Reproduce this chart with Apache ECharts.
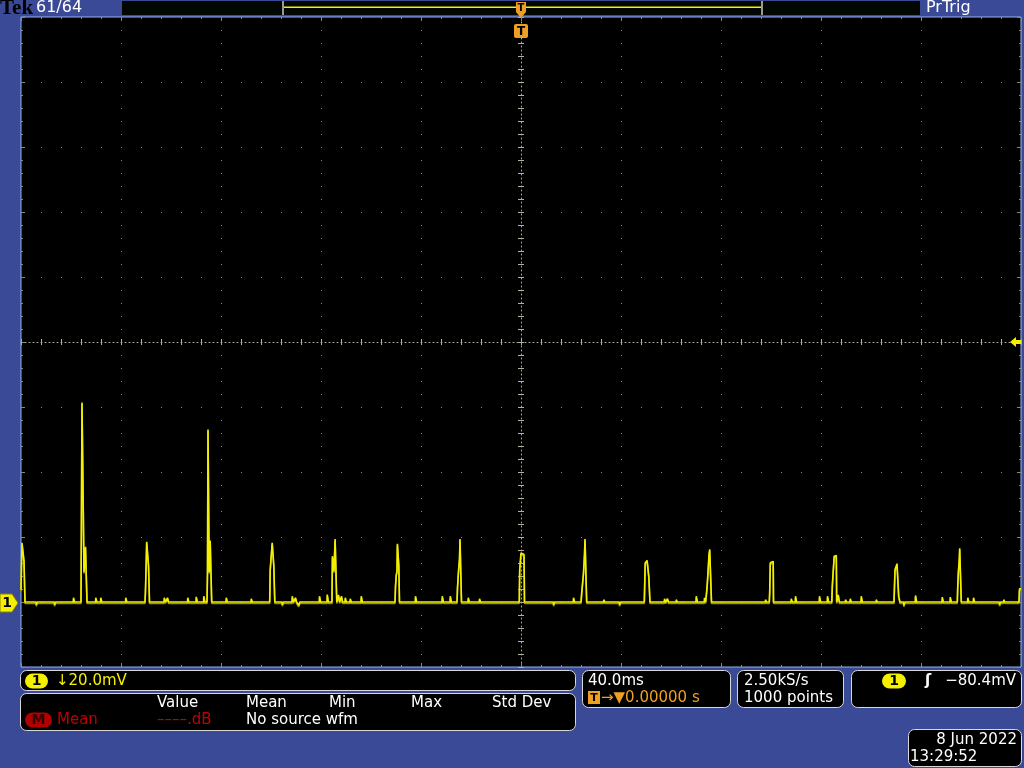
<!DOCTYPE html>
<html>
<head>
<meta charset="utf-8">
<script src="https://cdn.jsdelivr.net/npm/echarts@6/dist/echarts.min.js"></script>
<style>
  html, body { margin: 0; padding: 0; background: #3b4a97; }
  #main { width: 1024px; height: 768px; }
</style>
</head>
<body>
<div id="main"></div>
<script>
// time in ms (trigger at 0), voltage in mV above channel ground
var spikeT = [
  -200.0, -199.6, -199.2, -198.8, -198.4,
  -176.0, -175.6, -175.0, -174.8, -174.3, -174.2, -173.8, -173.6,
  -150.4, -150.2, -149.72, -149.12, -149.0, -148.72, -148.6,
  -125.6, -125.4, -125.2, -124.88, -124.72, -124.48, -124.32, -123.88, -123.72,
  -100.52, -100.32, -99.68, -99.52, -99.04, -98.88, -98.6, -98.48,
  -75.6, -75.44, -74.96, -74.8, -74.48, -74.36, -73.84, -73.68,
  -50.4, -50.2, -49.88, -49.6, -49.44, -49.04, -48.88, -48.72, -48.6,
  -25.6, -25.4, -25.0, -24.6, -24.4, -24.0, -23.8,
  -0.68, -0.52, -0.2, 0.0, 0.6, 0.8, 1.2, 1.4,
  24.0, 24.28, 25.0, 25.4, 25.6, 26.12, 26.28,
  49.32, 49.68, 50.32, 50.44, 51.0, 51.12, 51.48, 51.6,
  74.28, 74.4, 74.8, 75.2, 75.48, 76.0, 76.2,
  99.32, 99.48, 99.72, 100.32, 100.44, 100.88, 101.0,
  124.32, 124.52, 124.8, 125.28, 125.6, 126.12, 126.28,
  149.2, 149.32, 149.6, 150.32, 150.4, 150.92, 151.08, 151.6,
  174.52, 174.68, 174.92, 175.32, 175.48, 175.92, 176.12,
  199.2, 199.4, 200.0
];
var spikeMv = [
  3.8, 18.2, 18.2, 12.6, 0,
  0, 61.4, 61.4, 9.2, 9.2, 17.0, 17.0, 0,
  0, 3.8, 18.5, 18.5, 11.3, 11.3, 0,
  0, 9.2, 53.1, 53.1, 9.2, 9.2, 18.9, 18.9, 0,
  0, 10.0, 10.0, 18.2, 18.2, 11.3, 11.3, 0,
  0, 14.1, 14.1, 9.5, 9.5, 19.4, 19.4, 0,
  0, 4.9, 8.5, 9.4, 17.9, 17.9, 11.3, 11.3, 0,
  0, 4.5, 9.5, 13.1, 19.4, 19.4, 0,
  0, 10.0, 10.0, 15.1, 15.1, 14.6, 14.6, 0,
  0, 2.8, 9.0, 14.6, 19.4, 19.4, 0,
  0, 12.1, 12.1, 12.8, 12.8, 7.9, 7.9, 0,
  0, 4.4, 9.1, 14.6, 16.2, 16.2, 0,
  0, 3.0, 12.1, 12.1, 12.5, 12.5, 0,
  0, 4.9, 8.5, 14.1, 14.3, 14.3, 0,
  0, 3.0, 10.0, 10.0, 11.8, 11.8, 1.8, 0,
  0, 4.4, 9.0, 13.1, 16.5, 16.5, 0,
  0, 4.1, 4.1
];
// small baseline blips between the pulses
var noiseT = [
  -193.7, -186.4, -178.8, -169.9, -167.9, -157.9, -142.5, -141.2, -133.1, -129.7, -126.7,
  -117.7, -107.7, -95.3, -91.3, -90.0, -88.7, -80.4, -77.3, -72.8, -71.6, -70.1, -68.1,
  -63.7, -42.0, -31.3, -28.1, -20.9, -16.4, 13.2, 21.2, 33.3, 39.6, 57.6, 58.8, 62.3,
  70.3, 73.6, 98.0, 108.3, 110.0, 119.6, 122.8, 127.1, 130.0, 131.9, 136.3, 142.3,
  153.3, 158.0, 165.6, 168.7, 171.9, 178.9, 181.2, 191.6, 193.3
];
var noiseMv = [
  -0.8, -0.8, 1.3, 1.3, 1.3, 1.3, 1.3, 1.3, 1.3, 1.6, 1.8,
  1.3, 1.0, -0.8, 1.8, 1.3, -1.0, 1.8, 2.3, 2.2, 1.8, 1.3, 1.0,
  1.8, 1.8, 1.8, 1.8, 1.3, 1.0, -0.8, 1.3, 0.7, -0.8, 1.0, 1.0, 0.7,
  1.8, 1.3, 0.7, 1.0, 1.8, 1.8, 1.8, 2.2, 0.7, 1.0, 1.8, 0.7,
  -1.0, 2.0, 0.5, 1.5, 1.5, 1.3, 1.3, -0.8, 0.7
];
var timeMin = -200, timeMax = 200, timeStep = 40;   // 40.0ms/div
var voltMin = -20, voltMax = 180, voltStep = 20;    // 20.0mV/div

var points = [];
for (var i = 0; i < spikeT.length; i++) points.push([spikeT[i], spikeMv[i]]);
for (var j = 0; j < noiseT.length; j++) {
  points.push([noiseT[j] - 0.25, 0], [noiseT[j] - 0.2, noiseMv[j]],
              [noiseT[j] + 0.2, noiseMv[j]], [noiseT[j] + 0.25, 0]);
}
points.sort(function (a, b) { return a[0] - b[0]; });

var gridDot = '#8c8a78';
var centerDot = '#b4b09c';
var font = '15px "DejaVu Sans"';
var yellow = '#f4f000';
var orange = '#f0a020';

function box(x, y, w, h) {
  return { type: 'rect', z: 100, shape: { x: x + 0.5, y: y + 0.5, width: w, height: h, r: 6 },
    style: { fill: '#000', stroke: '#d8d8d8', lineWidth: 1 } };
}
function txt(x, y, s, color, f, align) {
  return { type: 'text', z: 110, x: x, y: y,
    style: { text: s, fill: color, font: f || font, align: align || 'left', verticalAlign: 'middle' } };
}
function badge(x, y, w, s, fill, color) {
  return [
    { type: 'rect', z: 105, shape: { x: x, y: y - 7.5, width: w, height: 15, r: 7.5 }, style: { fill: fill } },
    txt(x + w / 2, y + 0.5, s, color, 'bold 14px "DejaVu Sans"', 'center')
  ];
}

var myChart = echarts.init(document.getElementById('main'));
var option = {
  backgroundColor: '#3b4a97',
  animation: false,
  grid: { left: 21, top: 17, width: 1000, height: 650, show: true,
    backgroundColor: '#000', borderColor: '#8fb4ec', borderWidth: 1 },
  xAxis: [
    { // vertical graticule + centre horizontal line
      type: 'value', min: timeMin, max: timeMax, interval: timeStep, position: 'bottom',
      axisLine: { show: true, onZero: true, onZeroAxisIndex: 1, lineStyle: { color: centerDot, type: [1, 3] } },
      axisTick: { show: true, inside: true, length: 3, lineStyle: { color: centerDot } },
      minorTick: { show: true, splitNumber: 5, length: 3, lineStyle: { color: centerDot } },
      axisLabel: { show: false },
      splitLine: { show: true, lineStyle: { color: gridDot, type: [1, 12] } }
    },
    {
      type: 'value', min: timeMin, max: timeMax, interval: timeStep, position: 'top',
      axisLine: { show: false, onZero: true, onZeroAxisIndex: 1 },
      axisTick: { show: true, inside: true, length: 3, lineStyle: { color: centerDot } },
      minorTick: { show: true, splitNumber: 5, length: 3, lineStyle: { color: centerDot } },
      axisLabel: { show: false }, splitLine: { show: false }
    },
    {
      type: 'value', min: timeMin, max: timeMax, interval: timeStep, position: 'top',
      axisLine: { show: false, onZero: false },
      axisTick: { show: true, inside: true, length: 4, lineStyle: { color: gridDot } },
      minorTick: { show: true, splitNumber: 5, length: 2, lineStyle: { color: gridDot } },
      axisLabel: { show: false }, splitLine: { show: false }
    },
    {
      type: 'value', min: timeMin, max: timeMax, interval: timeStep, position: 'bottom',
      axisLine: { show: false, onZero: false },
      axisTick: { show: true, inside: true, length: 4, lineStyle: { color: gridDot } },
      minorTick: { show: true, splitNumber: 5, length: 2, lineStyle: { color: gridDot } },
      axisLabel: { show: false }, splitLine: { show: false }
    }
  ],
  yAxis: [
    { // signal axis, horizontal graticule + centre vertical line
      type: 'value', min: voltMin, max: voltMax, interval: voltStep, position: 'left',
      axisLine: { show: true, onZero: true, onZeroAxisIndex: 0, lineStyle: { color: centerDot, type: [1, 3] } },
      axisTick: { show: true, inside: true, length: 3, lineStyle: { color: centerDot } },
      minorTick: { show: true, splitNumber: 5, length: 3, lineStyle: { color: centerDot } },
      axisLabel: { show: false },
      splitLine: { show: true, lineStyle: { color: gridDot, type: [1, 19] } }
    },
    {
      type: 'value', min: -100, max: 100, interval: 20, position: 'right',
      axisLine: { show: false, onZero: true, onZeroAxisIndex: 0 },
      axisTick: { show: true, inside: true, length: 3, lineStyle: { color: centerDot } },
      minorTick: { show: true, splitNumber: 5, length: 3, lineStyle: { color: centerDot } },
      axisLabel: { show: false }, splitLine: { show: false }
    },
    {
      type: 'value', min: voltMin, max: voltMax, interval: voltStep, position: 'left',
      axisLine: { show: false, onZero: false },
      axisTick: { show: true, inside: true, length: 4, lineStyle: { color: gridDot } },
      minorTick: { show: true, splitNumber: 5, length: 2, lineStyle: { color: gridDot } },
      axisLabel: { show: false }, splitLine: { show: false }
    },
    {
      type: 'value', min: voltMin, max: voltMax, interval: voltStep, position: 'right',
      axisLine: { show: false, onZero: false },
      axisTick: { show: true, inside: true, length: 4, lineStyle: { color: gridDot } },
      minorTick: { show: true, splitNumber: 5, length: 2, lineStyle: { color: gridDot } },
      axisLabel: { show: false }, splitLine: { show: false }
    }
  ],
  series: [{
    type: 'line', xAxisIndex: 0, yAxisIndex: 0, data: points,
    showSymbol: false, symbol: 'none', clip: true, z: 10,
    lineStyle: { color: yellow, width: 1.6, shadowColor: '#9c9a00', shadowOffsetY: 1.5, shadowBlur: 0 }
  }],
  graphic: [].concat(
    [
      // top status bar
      txt(0, 9, 'Tek', '#000', 'bold 21px "Liberation Serif"'),
      txt(36, 8, '61/64', '#fff', '16px "DejaVu Sans"'),
      { type: 'rect', z: 100, shape: { x: 122, y: 1, width: 798, height: 14 }, style: { fill: '#020702' } },
      { type: 'rect', z: 101, shape: { x: 282, y: 1, width: 2, height: 14 }, style: { fill: '#9a9a9a' } },
      { type: 'rect', z: 101, shape: { x: 761, y: 1, width: 2, height: 14 }, style: { fill: '#9a9a9a' } },
      { type: 'rect', z: 101, shape: { x: 284, y: 6.5, width: 477, height: 1.5 }, style: { fill: yellow } },
      { type: 'polygon', z: 102, shape: { points: [[516, 2], [526, 2], [526, 12], [521, 18], [516, 12]] }, style: { fill: orange } },
      txt(521, 8, 'T', '#000', 'bold 10px "DejaVu Sans"', 'center'),
      txt(926, 8, 'PrTrig', '#fff', '16px "DejaVu Sans"'),
      // trigger position marker
      { type: 'rect', z: 102, shape: { x: 514, y: 24, width: 14, height: 14, r: 2 }, style: { fill: orange } },
      txt(521, 31.5, 'T', '#000', 'bold 12px "DejaVu Sans"', 'center'),
      // channel 1 ground marker
      { type: 'polygon', z: 102, shape: { points: [[0, 594], [12, 594], [18, 603], [12, 612], [0, 612]] },
        style: { fill: yellow, stroke: '#8a8400', lineWidth: 1 } },
      txt(7, 603.5, '1', '#000', 'bold 14px "DejaVu Sans"', 'center'),
      // trigger level marker
      { type: 'polygon', z: 102, shape: { points: [[1010, 342], [1016, 337], [1016, 340], [1021, 340], [1021, 344], [1016, 344], [1016, 347]] },
        style: { fill: yellow } },
      // readout boxes
      box(20, 670, 555, 20),
      box(20, 693, 555, 37),
      box(582, 670, 148, 37),
      box(737, 670, 106, 37),
      box(851, 670, 170, 37),
      box(908, 729, 113, 37)
    ],
    badge(25, 681, 23, '1', yellow, '#000'),
    [txt(56, 681, '\u219320.0mV', yellow)],
    [
      txt(157, 703, 'Value', '#fff'), txt(246, 703, 'Mean', '#fff'), txt(329, 703, 'Min', '#fff'),
      txt(411, 703, 'Max', '#fff'), txt(492, 703, 'Std Dev', '#fff')
    ],
    badge(25, 720, 27, 'M', '#b00000', '#300000'),
    [
      txt(57, 720, 'Mean', '#c00000'), txt(157, 720, '\u2013\u2013\u2013\u2013.dB', '#c00000'), txt(246, 720, 'No source wfm', '#fff'),
      txt(588, 681, '40.0ms', '#fff'),
      { type: 'rect', z: 105, shape: { x: 588, y: 691, width: 12, height: 13 }, style: { fill: orange } },
      txt(594, 698, 'T', '#000', 'bold 11px "DejaVu Sans"', 'center'),
      txt(601, 698, '\u2192\u25BC0.00000 s', orange),
      txt(744, 681, '2.50kS/s', '#fff'),
      txt(744, 698, '1000 points', '#fff')
    ],
    badge(882, 681, 24, '1', yellow, '#000'),
    [
      txt(925, 681, '\u0283', '#fff', 'bold 15px "DejaVu Sans"'),
      txt(1016, 681, '\u221280.4mV', '#fff', font, 'right'),
      txt(1017, 740, '8 Jun 2022', '#fff', font, 'right'),
      txt(910, 757, '13:29:52', '#fff')
    ]
  )
};
myChart.setOption(option);
</script>
</body>
</html>
